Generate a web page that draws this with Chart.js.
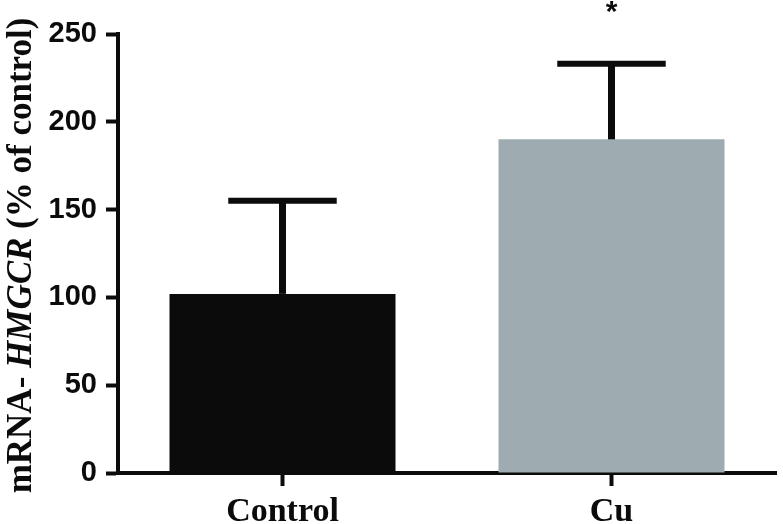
<!DOCTYPE html>
<html>
<head>
<meta charset="utf-8">
<script src="https://cdn.jsdelivr.net/npm/chart.js@4.4.0/dist/chart.umd.min.js"></script>
<style>
  body { margin: 0; background: #fff; }
  canvas { display: block; }
</style>
</head>
<body>
<canvas id="chart" width="783" height="524"></canvas>
<script>
// data
const groups = ['Control', 'Cu'];
const means = [102, 190];
const errors = [53, 43];
const marks = ['', '*'];
const barColors = ['#0b0b0b', '#9eacb2'];
const yTicks = [0, 50, 100, 150, 200, 250];

// y title pieces: [text, italic?]
const yTitle = [['mRNA- ', false], ['HMGCR', true], [' (% of control)', false]];

const serif = '"Liberation Serif", "Times New Roman", serif';

// error bars (upper only) and significance marks
const errorBars = {
    id: 'errorBars',
    afterDatasetsDraw(chart) {
        const ctx = chart.ctx;
        const y = chart.scales.y;
        const meta = chart.getDatasetMeta(0);
        ctx.save();
        ctx.strokeStyle = '#0b0b0b';
        ctx.fillStyle = '#0b0b0b';
        meta.data.forEach((bar, i) => {
            const top = y.getPixelForValue(means[i] + errors[i]);
            const half = bar.width * 0.24;
            // stem
            ctx.lineWidth = 7;
            ctx.beginPath();
            ctx.moveTo(bar.x, bar.y);
            ctx.lineTo(bar.x, top);
            ctx.stroke();
            // cap
            ctx.lineWidth = 6;
            ctx.beginPath();
            ctx.moveTo(bar.x - half, top);
            ctx.lineTo(bar.x + half, top);
            ctx.stroke();
            if (marks[i]) {
                ctx.font = 'bold 30px "Liberation Sans", Arial, sans-serif';
                ctx.textAlign = 'center';
                ctx.textBaseline = 'alphabetic';
                ctx.fillText(marks[i], bar.x, top - 43);
            }
        });
        ctx.restore();
    }
};

// rotated y title with italic gene name
const axisTitle = {
    id: 'axisTitle',
    afterDraw(chart) {
        const ctx = chart.ctx;
        const area = chart.chartArea;
        const fonts = yTitle.map(p => (p[1] ? 'italic bold 35px ' : 'bold 35px ') + serif);
        let total = 0;
        const widths = yTitle.map((p, i) => {
            ctx.font = fonts[i];
            const w = ctx.measureText(p[0]).width;
            total += w;
            return w;
        });
        ctx.save();
        ctx.translate(22, (area.top + area.bottom) / 2 + 2);
        ctx.rotate(-Math.PI / 2);
        ctx.fillStyle = '#0b0b0b';
        ctx.textAlign = 'left';
        ctx.textBaseline = 'middle';
        let x = -total / 2;
        yTitle.forEach((p, i) => {
            ctx.font = fonts[i];
            ctx.fillText(p[0], x, 0);
            x += widths[i];
        });
        ctx.restore();
    }
};

new Chart(document.getElementById('chart').getContext('2d'), {
    type: 'bar',
    data: {
        labels: groups,
        datasets: [{
            data: means,
            backgroundColor: barColors,
            borderWidth: 0,
            barPercentage: 0.687,
            categoryPercentage: 1
        }]
    },
    options: {
        responsive: false,
        animation: false,
        layout: { padding: { top: 34, right: 7 } },
        plugins: {
            legend: { display: false },
            tooltip: { enabled: false }
        },
        scales: {
            x: {
                border: { display: true, color: '#0b0b0b', width: 4 },
                grid: {
                    display: true,
                    offset: false,
                    drawOnChartArea: false,
                    color: '#0b0b0b',
                    tickLength: 13,
                    tickWidth: 4
                },
                ticks: {
                    color: '#0b0b0b',
                    padding: 6,
                    font: { family: serif, size: 34, weight: 'bold' }
                },
                afterFit(scale) { scale.height = 51; }
            },
            y: {
                min: 0,
                max: 250,
                afterBuildTicks(scale) {
                    scale.ticks = yTicks.map(v => ({ value: v }));
                },
                border: { display: true, color: '#0b0b0b', width: 4 },
                grid: {
                    display: true,
                    drawOnChartArea: false,
                    color: '#0b0b0b',
                    tickLength: 12,
                    tickWidth: 4
                },
                ticks: {
                    color: '#0b0b0b',
                    padding: 9,
                    font: { family: '"Liberation Sans", Arial, sans-serif', size: 29, weight: 'bold' }
                },
                afterFit(scale) { scale.width = 118; }
            }
        }
    },
    plugins: [errorBars, axisTitle]
});
</script>
</body>
</html>
